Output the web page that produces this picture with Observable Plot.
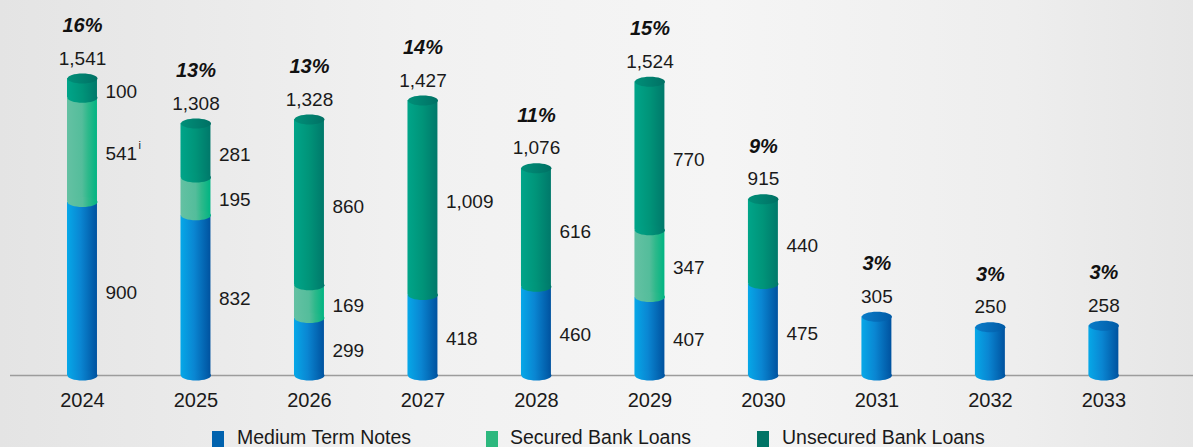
<!DOCTYPE html>
<html>
<head>
<meta charset="utf-8">
<script src="https://cdn.jsdelivr.net/npm/d3@7"></script>
<script src="https://cdn.jsdelivr.net/npm/@observablehq/plot@0.6"></script>
<style>
  html, body { margin: 0; padding: 0; }
  body {
    width: 1193px; height: 447px; overflow: hidden;
    background: linear-gradient(90deg, #e4e4e4 0%, #f1f1f1 35%, #f5f5f5 60%, #eeeeee 85%, #e6e6e6 100%);
    font-family: "Liberation Sans", Arial, sans-serif;
  }
  #legend { position: relative; width: 1193px; height: 27px; }
  .sw { position: absolute; top: 11px; width: 12px; height: 16px; }
  .lt { position: absolute; top: 6px; font-size: 19.5px; color: #1a1a1a; white-space: nowrap; }
</style>
</head>
<body>
<div id="chart"></div>
<div id="legend"></div>
<script>
// ---- data ----
const years = ["2024","2025","2026","2027","2028","2029","2030","2031","2032","2033"];
const mediumTermNotes = [900, 832, 299, 418, 460, 407, 475, 305, 250, 258];
const securedBankLoans = [541, 195, 169, 0, 0, 347, 0, 0, 0, 0];
const unsecuredBankLoans = [100, 281, 860, 1009, 616, 770, 440, 0, 0, 0];
const percentLabels = ["16%","13%","13%","14%","11%","15%","9%","3%","3%","3%"];
const securedNotes = ["i","","","","","","","","",""];
const seriesNames = ["Medium Term Notes", "Secured Bank Loans", "Unsecured Bank Loans"];
const seriesKeys = ["mtn", "sec", "uns"];

// ---- build table ----
const seriesValues = [mediumTermNotes, securedBankLoans, unsecuredBankLoans];
const rows = [];
const tops = [];
years.forEach((year, i) => {
  let acc = 0;
  let last = null;
  const nSeg = seriesValues.filter(v => v[i] > 0).length;
  seriesValues.forEach((vals, s) => {
    const v = vals[i];
    if (v > 0) {
      rows.push({year, key: seriesKeys[s], y1: acc, y2: acc + v, value: v, mid: acc + v / 2, multi: nSeg > 1, note: s === 1 ? securedNotes[i] : ""});
      acc += v;
      last = seriesKeys[s];
    }
  });
  tops.push({year, total: acc, top: last, pct: percentLabels[i]});
});

const ellipse = (rx, ry) => ({
  draw(ctx) {
    const k = 0.5523;
    ctx.moveTo(-rx, 0);
    ctx.bezierCurveTo(-rx, -ry * k, -rx * k, -ry, 0, -ry);
    ctx.bezierCurveTo(rx * k, -ry, rx, -ry * k, rx, 0);
    ctx.bezierCurveTo(rx, ry * k, rx * k, ry, 0, ry);
    ctx.bezierCurveTo(-rx * k, ry, -rx, ry * k, -rx, 0);
    ctx.closePath();
  }
});
const cap = ellipse(15, 5);

function defs() {
  const ns = "http://www.w3.org/2000/svg";
  const d = document.createElementNS(ns, "defs");
  const grads = {
    mtn: [[0, "#06a8e8"], [0.45, "#0a86d2"], [1, "#00529f"]],
    sec: [[0, "#64c1a3"], [0.5, "#54bd9b"], [0.7, "#2eb98b"], [1, "#00b482"]],
    uns: [[0, "#00a589"], [0.5, "#009479"], [1, "#00786a"]],
    capm: [[0, "#0a7cc8"], [1, "#005aa6"]],
    capu: [[0, "#008f78"], [1, "#007064"]]
  };
  for (const [id, stops] of Object.entries(grads)) {
    const g = document.createElementNS(ns, "linearGradient");
    g.setAttribute("id", "g-" + id);
    g.setAttribute("x1", "0"); g.setAttribute("x2", "1");
    g.setAttribute("y1", "0"); g.setAttribute("y2", "0");
    for (const [o, c] of stops) {
      const st = document.createElementNS(ns, "stop");
      st.setAttribute("offset", o);
      st.setAttribute("stop-color", c);
      g.appendChild(st);
    }
    d.appendChild(g);
  }
  return d;
}

const fmt = d3.format(",");
const marks = [defs, Plot.ruleY([0], {stroke: "#9c9c9c", strokeWidth: 1.6})];
for (const k of seriesKeys) {
  const data = rows.filter(r => r.key === k);
  marks.push(Plot.barY(data, {x: "year", y1: "y1", y2: "y2", fill: `url(#g-${k})`}));
  marks.push(Plot.dot(data, {x: "year", y: "y1", symbol: cap, fill: `url(#g-${k})`}));
}
marks.push(Plot.dot(tops.filter(t => t.top === "mtn"), {x: "year", y: "total", symbol: cap, fill: "url(#g-capm)"}));
marks.push(Plot.dot(tops.filter(t => t.top !== "mtn"), {x: "year", y: "total", symbol: cap, fill: "url(#g-capu)"}));

// segment labels
marks.push(Plot.text(rows.filter(r => r.multi), {x: "year", y: "mid", text: r => fmt(r.value), dx: 23, dy: 4, textAnchor: "start", fontSize: 19, fill: "#1a1a1a"}));
marks.push(Plot.text(rows.filter(r => r.note), {x: "year", y: "mid", text: "note", dx: 56, dy: -4, textAnchor: "start", fontSize: 11, fill: "#1a1a1a"}));
// totals
marks.push(Plot.text(tops, {x: "year", y: "total", text: t => fmt(t.total), dy: -20, fontSize: 19, fill: "#1a1a1a"}));
marks.push(Plot.text(tops, {x: "year", y: "total", text: "pct", dy: -53, fontSize: 20, fontWeight: "bold", fontStyle: "italic", fill: "#111"}));
// year labels
marks.push(Plot.text(years, {x: d => d, y: 0, text: d => d, dy: 25, fontSize: 20, fill: "#1a1a1a"}));

const chart = Plot.plot({
  width: 1193,
  height: 420,
  marginLeft: 10,
  marginRight: 0,
  marginTop: 0,
  marginBottom: 45,
  style: {background: "transparent", fontFamily: "Liberation Sans, Arial, sans-serif", overflow: "visible"},
  x: {domain: years, paddingInner: 0.736, paddingOuter: 0.58, align: 0.433, round: false, axis: null},
  y: {domain: [0, 1946], axis: null},
  marks
});
document.getElementById("chart").appendChild(chart);

// legend
const legendColors = ["#0062ae", "#2db87e", "#007466"];
const swX = [212, 486, 757];
const txX = [237, 510, 782];
const legend = document.getElementById("legend");
seriesNames.forEach((name, i) => {
  const sw = document.createElement("div");
  sw.className = "sw"; sw.style.left = swX[i] + "px"; sw.style.background = legendColors[i];
  const tx = document.createElement("div");
  tx.className = "lt"; tx.style.left = txX[i] + "px"; tx.textContent = name;
  legend.appendChild(sw); legend.appendChild(tx);
});
</script>
</body>
</html>
